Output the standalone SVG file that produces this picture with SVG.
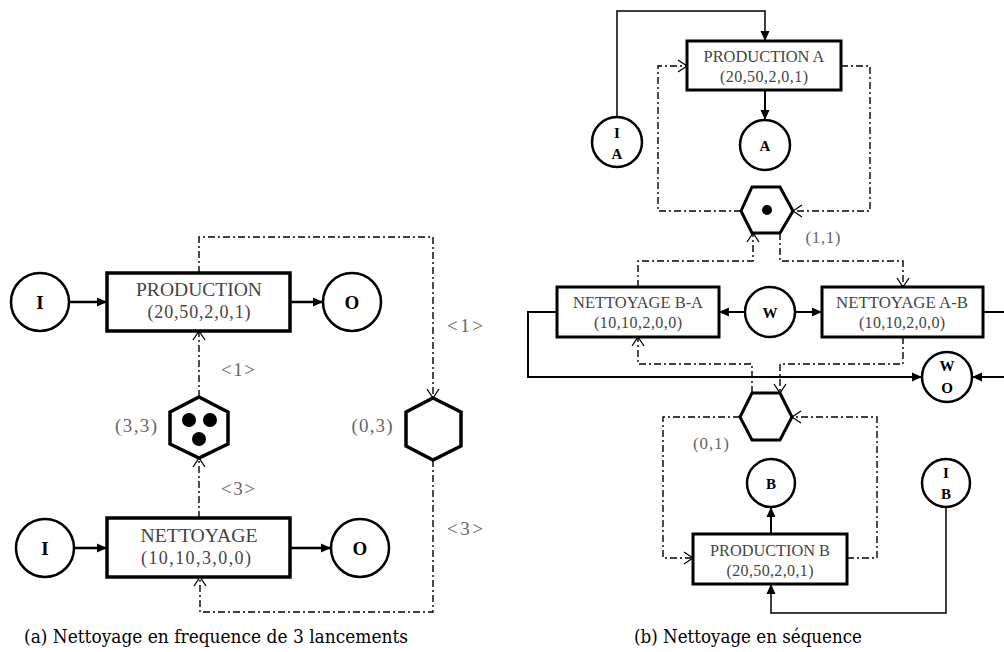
<svg xmlns="http://www.w3.org/2000/svg" width="1004" height="652" viewBox="0 0 1004 652">
  <style>
    .bg { fill: #ffffff; }
    .box { fill: #ffffff; stroke: #000; stroke-width: 3.5; }
    .box2 { fill: #ffffff; stroke: #000; stroke-width: 3; }
    .place { fill: #ffffff; stroke: #000; stroke-width: 2.5; }
    .hex { fill: #ffffff; stroke: #000; stroke-width: 3.5; stroke-linejoin: miter; }
    .hex2 { fill: #ffffff; stroke: #000; stroke-width: 3; stroke-linejoin: miter; }
    .token { fill: #000; }
    .flow { fill: none; stroke: #000; stroke-width: 2.5; }
    .flow2 { fill: none; stroke: #000; stroke-width: 2; }
    .thin { fill: none; stroke: #000; stroke-width: 1.5; }
    .ctrl { fill: none; stroke: #000; stroke-width: 1.4; stroke-dasharray: 7 3 2 3; }
    .lbl { font-family: "Liberation Serif", "Times New Roman", serif; fill: #444; text-anchor: middle; }
    .lblA { font-size: 18px; }
    .lblB { font-size: 16px; }
    .pl { font-family: "Liberation Serif", "Times New Roman", serif; font-weight: bold; fill: #000; text-anchor: middle; }
    .note { font-family: "Liberation Serif", "Times New Roman", serif; fill: #666; text-anchor: middle; }
    .cap { font-family: "DejaVu Serif", "Liberation Serif", serif; font-size: 18px; fill: #000; }
  </style>
  <defs>
    <marker id="tri" viewBox="-11 -6 12 12" markerWidth="12" markerHeight="12" refX="0" refY="0" orient="auto" markerUnits="userSpaceOnUse">
      <path d="M-10,-4.5 L0,0 L-10,4.5 Z" fill="#000"/>
    </marker>
    <marker id="vee" viewBox="-11 -8 12 16" markerWidth="12" markerHeight="16" refX="0" refY="0" orient="auto" markerUnits="userSpaceOnUse">
      <path d="M-9,-6 L0,0 L-9,6" fill="none" stroke="#000" stroke-width="1.3"/>
    </marker>
  </defs>

  <rect class="bg" x="0" y="0" width="1004" height="652"/>

  <!-- (a) cleaning every 3 launches -->
  <g id="connectors-a">
    <path class="flow" d="M69,302 H107" marker-end="url(#tri)"/>
    <path class="flow" d="M290,302 H323" marker-end="url(#tri)"/>
    <path class="flow" d="M74,548 H107" marker-end="url(#tri)"/>
    <path class="flow" d="M290,548 H331" marker-end="url(#tri)"/>
    <path class="ctrl" d="M199,273 V237 H433 V398" marker-end="url(#vee)"/>
    <path class="ctrl" d="M199,397 V331" marker-end="url(#vee)"/>
    <path class="ctrl" d="M199,518 V458" marker-end="url(#vee)"/>
    <path class="ctrl" d="M433,460 V612 H200 V577" marker-end="url(#vee)"/>
  </g>

  <g id="a-in-top">
    <circle class="place" cx="40" cy="302" r="29"/>
    <text class="pl" x="40" y="309" font-size="19">I</text>
  </g>
  <g id="a-production">
    <rect class="box" x="107" y="273" width="183" height="58"/>
    <text class="lbl lblA" x="199" y="296" textLength="126" lengthAdjust="spacingAndGlyphs">PRODUCTION</text>
    <text class="lbl lblA" x="199" y="318" textLength="103" lengthAdjust="spacing">(20,50,2,0,1)</text>
  </g>
  <g id="a-out-top">
    <circle class="place" cx="352" cy="302" r="29"/>
    <text class="pl" x="352" y="309" font-size="19">O</text>
  </g>
  <g id="a-counter">
    <polygon class="hex" points="199,397 228,412 228,444 199,458 170,444 170,412"/>
    <circle class="token" cx="189" cy="420" r="7"/>
    <circle class="token" cx="210" cy="420" r="7"/>
    <circle class="token" cx="199" cy="439" r="7"/>
    <text class="note" x="136" y="432" font-size="19" textLength="42" lengthAdjust="spacing">(3,3)</text>
  </g>
  <g id="a-trigger">
    <polygon class="hex" points="433,398 461,412 461,446 433,460 406,446 406,412"/>
    <text class="note" x="372" y="432" font-size="19" textLength="41" lengthAdjust="spacing">(0,3)</text>
  </g>
  <g id="a-weights">
    <text class="note" x="238" y="376" font-size="19" textLength="34" lengthAdjust="spacing">&lt;1&gt;</text>
    <text class="note" x="238" y="495" font-size="19" textLength="34" lengthAdjust="spacing">&lt;3&gt;</text>
    <text class="note" x="465" y="332" font-size="19" textLength="36" lengthAdjust="spacing">&lt;1&gt;</text>
    <text class="note" x="465" y="535" font-size="19" textLength="36" lengthAdjust="spacing">&lt;3&gt;</text>
  </g>
  <g id="a-in-bottom">
    <circle class="place" cx="45" cy="548" r="29"/>
    <text class="pl" x="45" y="555" font-size="19">I</text>
  </g>
  <g id="a-cleaning">
    <rect class="box" x="107" y="518" width="183" height="59"/>
    <text class="lbl lblA" x="199" y="542" textLength="117" lengthAdjust="spacingAndGlyphs">NETTOYAGE</text>
    <text class="lbl lblA" x="196" y="564" textLength="110" lengthAdjust="spacing">(10,10,3,0,0)</text>
  </g>
  <g id="a-out-bottom">
    <circle class="place" cx="360" cy="548" r="29"/>
    <text class="pl" x="360" y="555" font-size="19">O</text>
  </g>
  <text class="cap" x="24" y="643" textLength="384" lengthAdjust="spacingAndGlyphs">(a) Nettoyage en frequence de 3 lancements</text>

  <!-- (b) cleaning in sequence -->
  <g id="connectors-b">
    <path class="thin" d="M617,117 V11 H765 V41" marker-end="url(#tri)"/>
    <path class="flow2" d="M765,90 V120" marker-end="url(#tri)"/>
    <path class="ctrl" d="M741,211 H658 V66 H687" marker-end="url(#vee)"/>
    <path class="ctrl" d="M841,66 H870 V211 H793" marker-end="url(#vee)"/>
    <path class="ctrl" d="M638,287 V261 H753 V233" marker-end="url(#vee)"/>
    <path class="ctrl" d="M780,233 V261 H903 V287" marker-end="url(#vee)"/>
    <path class="flow2" d="M745,312 H719" marker-end="url(#tri)"/>
    <path class="flow2" d="M795,312 H822" marker-end="url(#tri)"/>
    <path class="flow2" d="M983,312 H1010 V377 H972" marker-end="url(#tri)"/>
    <path class="flow2" d="M557,312 H528 V377 H922" marker-end="url(#tri)"/>
    <path class="ctrl" d="M752,393 V364 H638 V337" marker-end="url(#vee)"/>
    <path class="ctrl" d="M903,337 V364 H780 V393" marker-end="url(#vee)"/>
    <path class="ctrl" d="M740,417 H663 V558 H693" marker-end="url(#vee)"/>
    <path class="ctrl" d="M847,558 H877 V417 H792" marker-end="url(#vee)"/>
    <path class="flow2" d="M771,534 V507" marker-end="url(#tri)"/>
    <path class="thin" d="M946,507 V613 H771 V584" marker-end="url(#tri)"/>
  </g>

  <g id="b-in-a">
    <circle class="place" cx="617" cy="142" r="25"/>
    <text class="pl" x="617" y="138" font-size="15">I</text>
    <text class="pl" x="617" y="159" font-size="15">A</text>
  </g>
  <g id="b-production-a">
    <rect class="box2" x="687" y="41" width="154" height="49"/>
    <text class="lbl lblB" x="764" y="62" textLength="121" lengthAdjust="spacingAndGlyphs">PRODUCTION A</text>
    <text class="lbl lblB" x="764" y="82" textLength="88" lengthAdjust="spacing">(20,50,2,0,1)</text>
  </g>
  <g id="b-out-a">
    <circle class="place" cx="765" cy="145" r="25"/>
    <text class="pl" x="765" y="151" font-size="15">A</text>
  </g>
  <g id="b-state-ab">
    <polygon class="hex2" points="741,211 752,187 780,187 793,211 780,233 752,233"/>
    <circle class="token" cx="767" cy="210" r="5"/>
    <text class="note" x="823" y="243" font-size="17" textLength="35" lengthAdjust="spacing">(1,1)</text>
  </g>
  <g id="b-cleaning-ba">
    <rect class="box2" x="557" y="287" width="162" height="50"/>
    <text class="lbl lblB" x="638" y="308" textLength="130" lengthAdjust="spacingAndGlyphs">NETTOYAGE B-A</text>
    <text class="lbl lblB" x="638" y="328" textLength="88" lengthAdjust="spacing">(10,10,2,0,0)</text>
  </g>
  <g id="b-water">
    <circle class="place" cx="770" cy="312" r="25"/>
    <text class="pl" x="770" y="318" font-size="15">W</text>
  </g>
  <g id="b-cleaning-ab">
    <rect class="box2" x="822" y="287" width="161" height="50"/>
    <text class="lbl lblB" x="902" y="308" textLength="132" lengthAdjust="spacingAndGlyphs">NETTOYAGE A-B</text>
    <text class="lbl lblB" x="902" y="328" textLength="86" lengthAdjust="spacing">(10,10,2,0,0)</text>
  </g>
  <g id="b-water-out">
    <circle class="place" cx="947" cy="377" r="25"/>
    <text class="pl" x="947" y="371" font-size="15">W</text>
    <text class="pl" x="947" y="393" font-size="15">O</text>
  </g>
  <g id="b-state-b">
    <polygon class="hex2" points="740,417 752,393 780,393 792,417 780,440 752,440"/>
    <text class="note" x="711" y="449" font-size="17" textLength="36" lengthAdjust="spacing">(0,1)</text>
  </g>
  <g id="b-out-b">
    <circle class="place" cx="771" cy="483" r="24"/>
    <text class="pl" x="771" y="489" font-size="15">B</text>
  </g>
  <g id="b-in-b">
    <circle class="place" cx="946" cy="483" r="24"/>
    <text class="pl" x="946" y="478" font-size="15">I</text>
    <text class="pl" x="946" y="499" font-size="15">B</text>
  </g>
  <g id="b-production-b">
    <rect class="box2" x="693" y="534" width="154" height="50"/>
    <text class="lbl lblB" x="770" y="556" textLength="120" lengthAdjust="spacingAndGlyphs">PRODUCTION B</text>
    <text class="lbl lblB" x="770" y="576" textLength="87" lengthAdjust="spacing">(20,50,2,0,1)</text>
  </g>
  <text class="cap" x="634" y="643" textLength="228" lengthAdjust="spacingAndGlyphs">(b) Nettoyage en séquence</text>
</svg>
